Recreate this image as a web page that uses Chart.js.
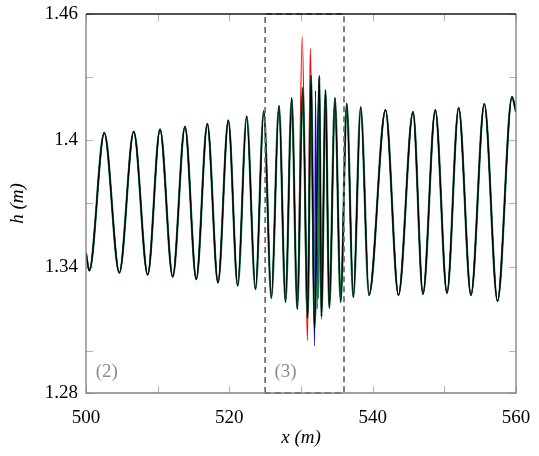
<!DOCTYPE html>
<html>
<head>
<meta charset="utf-8">
<script src="https://cdn.jsdelivr.net/npm/chart.js@4"></script>
<style>
  body { margin: 0; background: #fff; }
  #wrap { width: 539px; height: 456px; }
</style>
</head>
<body>
<div id="wrap"><canvas id="waveChart" width="539" height="456"></canvas></div>
<script>
// wave crests / troughs (x in m, h in m)
var leftX = [500, 500.46, 502.55, 504.65, 506.66, 508.61, 510.33, 512.10, 513.81, 515.39, 516.93,
             518.42, 519.86, 521.17, 522.42, 523.65, 524.81, 525.86, 526.93, 527.84, 528.70, 529.48];
var leftY = [1.3465, 1.3381, 1.4035, 1.3371, 1.4041, 1.3362, 1.4052, 1.3352, 1.4065, 1.3340, 1.4078,
             1.3324, 1.4095, 1.3310, 1.4114, 1.3293, 1.4139, 1.3251, 1.4164, 1.3232, 1.4201, 1.3199];

// the breaking zone, one set per run
var blackMidX = [530.24, 530.93, 531.40, 531.88, 532.55, 532.86, 533.42];
var blackMidY = [1.4249, 1.3156, 1.4310, 1.3099, 1.4310, 1.3163, 1.4239];
var redMidX = [530.17, 530.90, 531.30, 531.85, 532.50, 532.83, 533.40];
var redMidY = [1.4494, 1.3048, 1.4437, 1.3120, 1.4290, 1.3150, 1.4230];
var blueMidX = [530.24, 530.93, 531.40, 531.90, 532.02, 532.25, 532.55, 532.86, 533.42];
var blueMidY = [1.4249, 1.3156, 1.4300, 1.3023, 1.4236, 1.3200, 1.4305, 1.3163, 1.4239];
var greenMidX = [530.24, 530.93, 531.40, 531.90, 532.15, 532.40, 532.55, 532.86, 533.42];
var greenMidY = [1.4249, 1.3156, 1.4305, 1.3110, 1.3330, 1.3250, 1.4300, 1.3163, 1.4239];

var rightX = [533.95, 534.74, 535.54, 536.38, 537.30, 538.33, 539.49, 541.79, 543.60,
              545.63, 547.02, 548.74, 550.37, 552.00, 553.72, 555.58, 557.42, 559.44, 560];
var rightY = [1.3204, 1.4201, 1.3232, 1.4175, 1.3255, 1.4158, 1.3265, 1.4144, 1.3265,
              1.4135, 1.3270, 1.4144, 1.3275, 1.4154, 1.3265, 1.4173, 1.3237, 1.4206, 1.4135];

// zone (3) frame
var zoneX = [525, 525, 536, 536, 525];
var zoneY = [1.28, 1.46, 1.46, 1.28, 1.28];

var xTicks = [500, 520, 540, 560];
var xMinor = [510, 530, 550];
var yTicks = [1.28, 1.34, 1.4, 1.46];
var yMinor = [1.30, 1.37, 1.43];

var zoneLabels = [{ text: '(2)', x: 502.9, y: 1.29 }, { text: '(3)', x: 527.85, y: 1.29 }];

function pts(xs, ys) {
  return xs.map(function (x, i) { return { x: x, y: ys[i] }; });
}
function run(midX, midY) {
  return pts(leftX.concat(midX, rightX), leftY.concat(midY, rightY));
}

var serif = 'Liberation Serif';

var frameTicks = {
  id: 'frameTicks',
  beforeDatasetsDraw: function (chart) {
    var c = chart.ctx, a = chart.chartArea, sx = chart.scales.x, sy = chart.scales.y;
    c.save();
    c.strokeStyle = '#b4b4b4';
    c.lineWidth = 1;
    xTicks.concat(xMinor).forEach(function (v) {
      var p = Math.round(sx.getPixelForValue(v)) + 0.5;
      c.beginPath();
      c.moveTo(p, a.bottom); c.lineTo(p, a.bottom - 7);
      c.moveTo(p, a.top); c.lineTo(p, a.top + 7);
      c.stroke();
    });
    yTicks.concat(yMinor).forEach(function (v) {
      var p = Math.round(sy.getPixelForValue(v)) + 0.5;
      c.beginPath();
      c.moveTo(a.left, p); c.lineTo(a.left + 7, p);
      c.moveTo(a.right, p); c.lineTo(a.right - 7, p);
      c.stroke();
    });
    c.restore();
  },
  afterDatasetsDraw: function (chart) {
    var c = chart.ctx, a = chart.chartArea, sx = chart.scales.x, sy = chart.scales.y;
    c.save();
    c.lineWidth = 1.3;
    c.strokeStyle = '#808080';
    c.beginPath();
    c.moveTo(a.left, a.top); c.lineTo(a.left, a.bottom);
    c.lineTo(a.right, a.bottom); c.lineTo(a.right, a.top);
    c.stroke();
    c.strokeStyle = '#1a1a1a';
    c.beginPath();
    c.moveTo(a.left, a.top); c.lineTo(a.right, a.top);
    c.stroke();
    c.fillStyle = '#8c8c8c';
    c.font = '19px "' + serif + '"';
    c.textAlign = 'center';
    c.textBaseline = 'middle';
    zoneLabels.forEach(function (l) {
      c.fillText(l.text, sx.getPixelForValue(l.x), sy.getPixelForValue(l.y));
    });
    c.restore();
  }
};

function lineSet(label, data, color, width, order) {
  return {
    label: label,
    data: data,
    borderColor: color,
    borderWidth: width,
    pointRadius: 0,
    fill: false,
    cubicInterpolationMode: 'monotone',
    order: order
  };
}

var ctx = document.getElementById('waveChart').getContext('2d');
var waveChart = new Chart(ctx, {
  type: 'line',
  data: {
    datasets: [
      {
        label: 'zone',
        data: pts(zoneX, zoneY),
        borderColor: '#707070',
        borderWidth: 1.8,
        borderDash: [6, 4],
        pointRadius: 0,
        fill: false,
        tension: 0,
        clip: 4,
        order: 0
      },
      lineSet('black', run(blackMidX, blackMidY), '#000000', 1.3, 1),
      lineSet('green', run(greenMidX, greenMidY), '#1f7a4a', 2.2, 2),
      lineSet('blue', run(blueMidX, blueMidY), '#0000ff', 1.2, 3),
      lineSet('red', run(redMidX, redMidY), '#ff0000', 1.3, 4)
    ]
  },
  options: {
    responsive: false,
    animation: false,
    layout: { padding: { left: 0, right: 23, top: 14, bottom: 0 } },
    scales: {
      x: {
        type: 'linear',
        min: 500,
        max: 560,
        afterBuildTicks: function (axis) { axis.ticks = xTicks.map(function (v) { return { value: v }; }); },
        afterFit: function (axis) {
          axis.height = 63;
          axis.paddingLeft = 0;
          axis.paddingRight = 0;
        },
        grid: { display: false, drawTicks: false },
        border: { display: false },
        ticks: {
          color: '#000',
          padding: 14,
          maxRotation: 0,
          font: { family: serif, size: 19 }
        },
        title: {
          display: true,
          text: 'x (m)',
          color: '#000',
          padding: { top: 7, bottom: 7 },
          font: { family: serif, size: 19, style: 'italic' }
        }
      },
      y: {
        type: 'linear',
        min: 1.28,
        max: 1.46,
        afterBuildTicks: function (axis) { axis.ticks = yTicks.map(function (v) { return { value: v }; }); },
        afterFit: function (axis) {
          axis.width = 86;
          axis.paddingTop = 0;
          axis.paddingBottom = 0;
        },
        grid: { display: false, drawTicks: false },
        border: { display: false },
        ticks: {
          color: '#000',
          padding: 8,
          font: { family: serif, size: 19 },
          callback: function (v) { return String(Number(v.toFixed(2))); }
        },
        title: {
          display: true,
          text: 'h (m)',
          color: '#000',
          padding: { top: 7, bottom: 7 },
          font: { family: serif, size: 19, style: 'italic' }
        }
      }
    },
    plugins: {
      legend: { display: false },
      tooltip: { enabled: false }
    }
  },
  plugins: [frameTicks]
});
</script>
</body>
</html>
